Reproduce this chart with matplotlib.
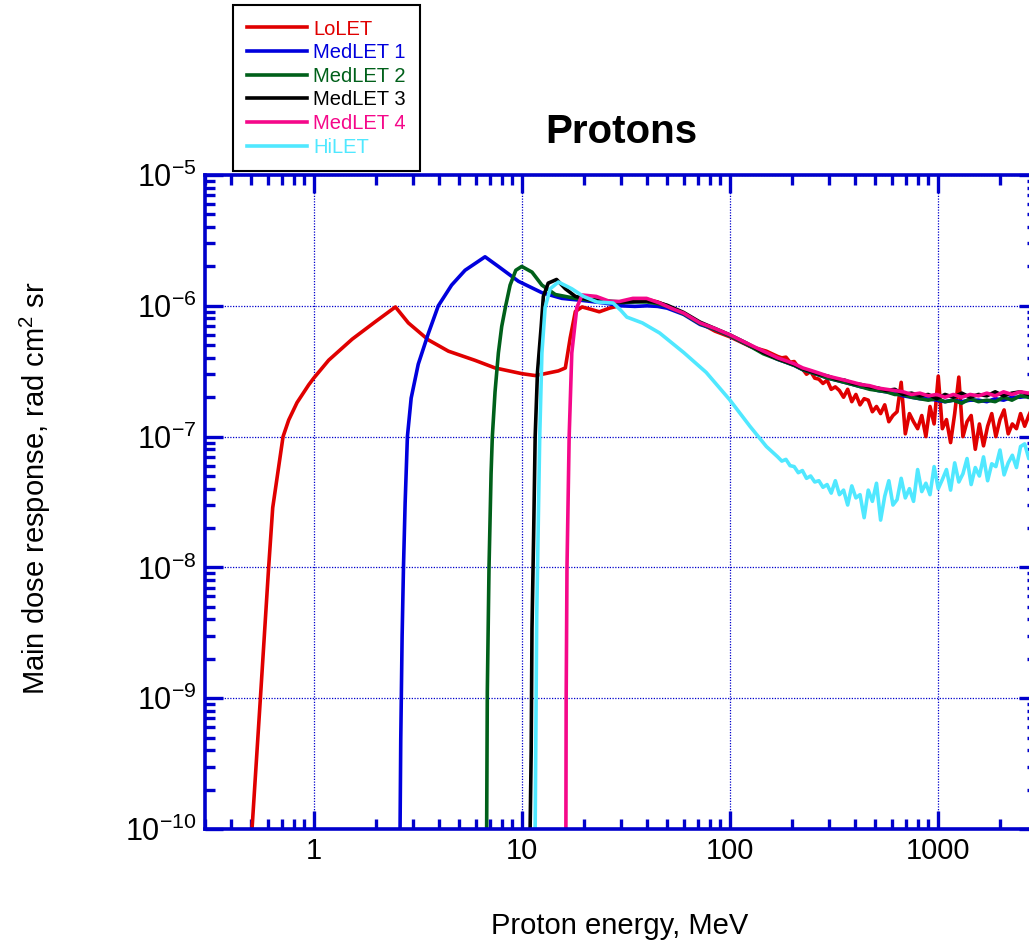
import matplotlib
matplotlib.use('Agg')
import matplotlib.pyplot as plt
from matplotlib.ticker import FixedLocator, FuncFormatter, NullFormatter, LogLocator
import numpy as np

plt.rcParams['font.family'] = ['Liberation Sans', 'DejaVu Sans']
plt.rcParams['mathtext.default'] = 'regular'
plt.rcParams['axes.unicode_minus'] = False

# Energies (MeV) and dose responses
lolet_E = [0.495, 0.505, 0.554, 0.607, 0.635, 0.712, 0.758, 0.831, 0.946, 1.0, 1.18, 1.53,
           1.98, 2.47, 2.85, 3.55, 4.44, 5.96, 7.44, 10.0, 11.6, 12.95, 15.0, 16.2, 17.1,
           18.1, 19.5, 21.5, 23.6, 26.4, 28.6, 32, 36, 40, 45, 50, 60, 72, 85, 100, 125, 150]
lolet_D = [8e-11, 1e-10, 1e-9, 1e-8, 2.86e-8, 1e-7, 1.34e-7, 1.82e-7, 2.49e-7, 2.8e-7, 3.84e-7,
           5.56e-7, 7.57e-7, 9.8e-7, 7.4e-7, 5.5e-7, 4.5e-7, 3.83e-7, 3.35e-7, 3.03e-7, 2.93e-7,
           3.03e-7, 3.18e-7, 3.35e-7, 5.7e-7, 9.05e-7, 9.8e-7, 9.4e-7, 9.0e-7, 9.6e-7, 9.9e-7,
           1.08e-6, 1.1e-6, 1.12e-6, 1.07e-6, 1.0e-6, 8.7e-7, 7.4e-7, 6.4e-7, 5.8e-7, 4.9e-7, 4.5e-7]
# noisy high-energy tail, units of 1e-7, on a 64-step log grid 170..3000 MeV
lolet_tail = [4.1, 4.0, 4.05, 3.7, 3.75, 3.4, 3.3, 3.0, 3.15, 2.8,
              2.75, 2.55, 2.7, 2.3, 2.4, 2.25, 2.0, 2.3, 1.85, 2.1,
              1.75, 1.95, 1.9, 1.55, 1.7, 1.5, 1.75, 1.3, 1.45, 1.55,
              2.6, 1.05, 1.5, 1.3, 1.15, 1.45, 1.0, 1.7, 1.25, 2.9,
              1.15, 1.35, 0.9, 1.5, 2.85, 1.0, 1.3, 1.45, 0.8, 1.25,
              0.85, 1.2, 1.5, 1.0, 1.35, 1.6, 1.05, 1.25, 1.15, 1.5,
              1.2, 1.45, 1.7, 1.85]

med1_E = [2.6, 2.6, 2.62, 2.66, 2.70, 2.75, 2.82, 2.94, 3.18, 3.55, 3.97, 4.6, 5.34, 6.66,
          7.72, 9.64, 12.5, 15.6, 19.5, 25, 30, 35, 40, 45, 50, 60, 72, 85, 100, 120, 145]
med1_D = [8e-11, 1e-10, 4.8e-10, 3e-9, 1e-8, 3.1e-8, 1e-7, 1.97e-7, 3.58e-7, 6.1e-7, 1e-6,
          1.44e-6, 1.87e-6, 2.37e-6, 2.0e-6, 1.54e-6, 1.26e-6, 1.14e-6, 1.1e-6, 1.05e-6, 1.0e-6,
          9.9e-7, 1.0e-6, 9.9e-7, 9.6e-7, 8.6e-7, 7.2e-7, 6.6e-7, 5.9e-7, 5.1e-7, 4.4e-7]
med1_tail = [3.9, 3.7, 3.5, 3.25, 3.1, 2.95, 2.8, 2.7, 2.6, 2.5, 2.4, 2.35, 2.25, 2.2, 2.15, 2.05,
             2.0, 1.95, 1.95, 1.9, 1.85, 1.9, 1.85, 1.9, 1.9, 1.85, 1.95, 1.9, 2.0, 2.0, 2.05, 2.1]

med2_E = [6.78, 6.78, 6.83, 6.96, 7.12, 7.22, 7.44, 7.72, 8.01, 8.37, 8.79, 9.36, 10.0, 11.2,
          12.5, 14.5, 18.1, 22, 26, 30, 35, 40, 45, 50, 60, 72, 85, 100, 120, 145]
med2_D = [8e-11, 1e-10, 1.12e-9, 1e-8, 5.2e-8, 1e-7, 2.2e-7, 4.36e-7, 6.95e-7, 1e-6, 1.44e-6,
          1.87e-6, 2.0e-6, 1.81e-6, 1.44e-6, 1.22e-6, 1.14e-6, 1.1e-6, 1.07e-6, 1.06e-6, 1.07e-6,
          1.07e-6, 1.04e-6, 9.9e-7, 8.7e-7, 7.3e-7, 6.6e-7, 5.9e-7, 5.1e-7, 4.3e-7]
med2_tail = [3.9, 3.7, 3.5, 3.25, 3.1, 2.95, 2.8, 2.7, 2.6, 2.5, 2.4, 2.3, 2.25, 2.2, 2.1, 2.1,
             2.0, 1.95, 1.9, 1.95, 1.85, 1.9, 1.8, 1.95, 1.85, 1.9, 1.85, 2.0, 1.9, 2.05, 2.0, 2.05]

med3_E = [10.97, 10.97, 11.1, 11.2, 11.4, 11.6, 11.9, 12.4, 12.7, 13.4, 14.7, 16.2, 18.1, 21,
          25, 30, 35, 40, 45, 50, 60, 72, 85, 100, 120, 145]
med3_D = [8e-11, 1e-10, 3.9e-10, 3.4e-9, 1.7e-8, 1e-7, 3.1e-7, 6.95e-7, 1.18e-6, 1.49e-6,
          1.59e-6, 1.35e-6, 1.18e-6, 1.12e-6, 1.09e-6, 1.07e-6, 1.08e-6, 1.09e-6, 1.06e-6,
          1.01e-6, 8.9e-7, 7.5e-7, 6.7e-7, 6.0e-7, 5.2e-7, 4.4e-7]
med3_tail = [3.95, 3.75, 3.55, 3.3, 3.15, 3.0, 2.9, 2.75, 2.7, 2.55, 2.5, 2.4, 2.35, 2.25, 2.3,
             2.1, 2.15, 2.05, 2.1, 1.95, 2.1, 2.0, 2.15, 2.0, 2.1, 2.05, 2.2, 2.05, 2.15, 2.2, 2.1, 2.2]

med4_E = [16.3, 16.3, 16.35, 16.5, 16.9, 17.4, 18.4, 19.5, 22.8, 26.5, 29.5, 34.2, 39.8, 46,
          53, 60, 72, 85, 100, 120, 145]
med4_D = [8e-11, 1e-10, 1e-9, 1e-8, 1e-7, 4.36e-7, 9.7e-7, 1.21e-6, 1.18e-6, 1.08e-6, 1.08e-6,
          1.14e-6, 1.14e-6, 1.05e-6, 9.5e-7, 8.8e-7, 7.4e-7, 6.7e-7, 6.0e-7, 5.2e-7, 4.5e-7]
med4_tail = [4.0, 3.8, 3.6, 3.35, 3.2, 3.05, 2.9, 2.8, 2.7, 2.6, 2.5, 2.45, 2.35, 2.3, 2.25, 2.2,
             2.1, 2.15, 2.05, 2.1, 2.0, 2.1, 2.0, 2.1, 2.05, 2.15, 2.05, 2.2, 2.1, 2.2, 2.15, 2.25]

hilet_E = [11.6, 11.6, 11.8, 12.2, 12.5, 12.95, 13.7, 15.0, 17.4, 19.8, 23, 27.5, 30, 32, 38,
           46, 60, 77, 100, 125, 150]
hilet_D = [8e-11, 1e-10, 4.2e-9, 1e-7, 4.36e-7, 9.7e-7, 1.35e-6, 1.52e-6, 1.35e-6, 1.18e-6,
           1.07e-6, 1.05e-6, 9.2e-7, 8.2e-7, 7.4e-7, 6.2e-7, 4.4e-7, 3.1e-7, 1.91e-7, 1.2e-7, 8.4e-8]
# noisy tail, units of 1e-8, same 64-step grid as LoLET
hilet_tail = [7.0, 6.5, 6.7, 6.0, 5.9, 5.3, 5.5, 4.8, 5.0, 4.5,
              4.6, 4.1, 4.3, 3.7, 4.6, 3.6, 3.9, 3.0, 4.2, 3.4,
              3.6, 2.4, 3.9, 3.2, 4.4, 2.3, 3.5, 4.6, 3.0, 3.3,
              4.8, 3.4, 4.0, 3.2, 5.6, 3.8, 4.4, 3.6, 5.9, 4.0,
              4.7, 5.6, 3.9, 6.3, 4.5, 5.2, 6.8, 4.3, 5.8, 5.0,
              7.0, 4.6, 6.2, 5.9, 7.9, 5.1, 6.3, 7.2, 5.8, 8.4,
              8.8, 6.8, 7.6, 7.1]

# energy grids of the tabulated tails
E_tail_fine = np.geomspace(170, 3000, len(lolet_tail))
E_tail = np.geomspace(170, 3000, len(med1_tail))

x_major = [1, 10, 100, 1000]
y_major = [1e-10, 1e-9, 1e-8, 1e-7, 1e-6, 1e-5]

series = [
    ('LoLET', '#e00000', lolet_E, lolet_D, E_tail_fine, lolet_tail, 1e-7),
    ('MedLET 1', '#0000dd', med1_E, med1_D, E_tail, med1_tail, 1e-7),
    ('MedLET 2', '#00601a', med2_E, med2_D, E_tail, med2_tail, 1e-7),
    ('MedLET 3', '#000000', med3_E, med3_D, E_tail, med3_tail, 1e-7),
    ('MedLET 4', '#f5088a', med4_E, med4_D, E_tail, med4_tail, 1e-7),
    ('HiLET', '#50e8ff', hilet_E, hilet_D, E_tail_fine, hilet_tail, 1e-8),
]

fig = plt.figure(figsize=(10.29, 9.44), dpi=100)
ax = fig.add_axes([0.1992, 0.1218, 0.8086, 0.6928])

axis_blue = '#0000cc'

for name, col, E, D, Et, Dt, unit in series:
    x = np.concatenate([E, Et])
    y = np.concatenate([D, np.array(Dt) * unit])
    ax.plot(x, y, color=col, lw=2.6, label=name, solid_joinstyle='round')

ax.set_xscale('log')
ax.set_yscale('log')
ax.set_xlim(0.3, 3000)
ax.set_ylim(1e-10, 1e-5)

# ticks: only what lies inside the axes
x_minor = [m * d for d in [0.1, 1, 10, 100, 1000] for m in range(2, 10) if 0.3 <= m * d <= 3000]
y_minor = [m * d for d in y_major[:-1] for m in range(2, 10)]
ax.xaxis.set_major_locator(FixedLocator(x_major))
ax.xaxis.set_minor_locator(FixedLocator(x_minor))
ax.xaxis.set_major_formatter(FuncFormatter(lambda v, p: f'{v:g}'))
ax.xaxis.set_minor_formatter(NullFormatter())
ax.yaxis.set_major_locator(FixedLocator(y_major))
ax.yaxis.set_minor_locator(FixedLocator(y_minor))
ax.yaxis.set_major_formatter(FuncFormatter(lambda v, p: '$10^{%d}$' % round(np.log10(v))))
ax.yaxis.set_minor_formatter(NullFormatter())

ax.tick_params(which='both', direction='in', top=True, right=True, color=axis_blue,
               labelcolor='black')
ax.tick_params(axis='x', labelsize=21)
ax.tick_params(axis='y', labelsize=22)
ax.tick_params(which='major', length=13, width=2.4, pad=6)
ax.tick_params(which='minor', length=7, width=2.4)
for s in ax.spines.values():
    s.set_color(axis_blue)
    s.set_linewidth(2.6)

ax.grid(True, which='major', color=axis_blue, linestyle=(0, (1, 1.2)), lw=0.9)
ax.set_axisbelow(True)

# labels and title
fig.text(0.604, 0.849, 'Protons', ha='center', va='baseline', fontsize=29, fontweight='bold')
fig.text(0.6025, 0.011, 'Proton energy, MeV', ha='center', va='baseline', fontsize=21)
fig.text(0.034, 0.483, 'Main dose response, rad cm$^2$ sr', ha='center', va='center',
         rotation=90, fontsize=21)

# legend above the plot, text coloured like the lines
leg = fig.legend(loc='upper left', bbox_to_anchor=(0.2264, 0.9947), borderaxespad=0,
                 fontsize=14.5, handlelength=2.95, handletextpad=0.3, labelspacing=0.23,
                 borderpad=0.72, fancybox=False, framealpha=1, edgecolor='black')
leg.get_frame().set_linewidth(1.5)
for txt, ln in zip(leg.get_texts(), leg.get_lines()):
    txt.set_color(ln.get_color())

fig.savefig('out.png', dpi=100)
